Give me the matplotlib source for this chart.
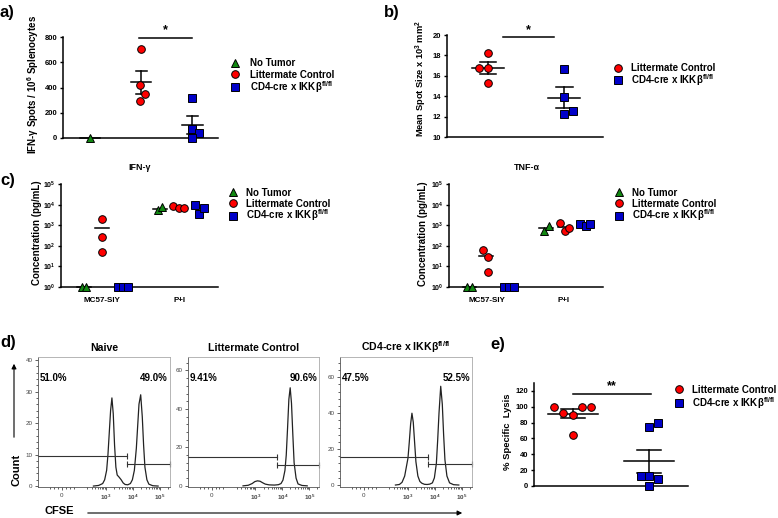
import numpy as np
import matplotlib
matplotlib.use("Agg")
import matplotlib.pyplot as plt
from matplotlib.patches import FancyArrowPatch

plt.rcParams['font.family'] = ['Liberation Sans', 'DejaVu Sans']
plt.rcParams['font.weight'] = 'bold'
plt.rcParams['mathtext.fontset'] = 'custom'
plt.rcParams['mathtext.rm'] = 'Liberation Sans'
plt.rcParams['mathtext.bf'] = 'Liberation Sans:bold'
plt.rcParams['mathtext.default'] = 'bf'

# ---------------- data ----------------
lbl_nt = 'No Tumor'
lbl_lc = 'Littermate Control'
lbl_cd4 = 'CD4-cre x IKKβ$^{fl/fl}$'

# a) IFN-g ELISpot
a_nt = [0]
a_lc = [703, 420, 349, 294]
a_cd4 = [315, 71, 39, 0]
a_jit_lc = [0, -0.02, 0.08, -0.02]
a_jit_cd4 = [0, 0, 0.12, 0]

# b) mean spot size
b_lc = [18.2, 16.8, 16.8, 15.3]
b_cd4 = [16.64, 13.97, 12.57, 12.28]
b_jit_lc = [0, -0.12, 0, 0]
b_jit_cd4 = [0, 0, 0.12, 0]

# c) cytokines, per condition [MC57-SIY, P+I]
conditions = ['MC57-SIY', 'P+I']
ifn_nt = [[1, 1], [5400, 7300]]
ifn_lc = [[2000, 263, 49], [8500, 6800, 7000]]
ifn_cd4 = [[1, 1, 1], [9500, 3500, 7000]]
ifn_jit_nt = [[-0.26, -0.21], [-0.27, -0.22]]
ifn_jit_lc = [[0, 0, 0], [-0.08, 0, 0.065]]
ifn_jit_cd4 = [[0.21, 0.27, 0.34], [0.21, 0.26, 0.32]]

tnf_nt = [[1, 1], [535, 900]]
tnf_lc = [[61, 29, 5.4], [1300, 535, 750]]
tnf_cd4 = [[1, 1, 1], [1200, 900, 1090]]
tnf_jit_nt = [[-0.26, -0.20], [-0.25, -0.19]]
tnf_jit_lc = [[-0.05, 0.01, 0.01], [-0.04, 0.02, 0.08]]
tnf_jit_cd4 = [[0.22, 0.29, 0.355], [0.23, 0.30, 0.355]]

# d) CFSE histograms (x = display channel 0..1, y = count)
naive_x = [0.42, 0.46, 0.49, 0.505, 0.52, 0.53, 0.54, 0.55, 0.56, 0.57, 0.58, 0.59, 0.60,
           0.615, 0.63, 0.645, 0.66, 0.68, 0.70, 0.715, 0.73, 0.745, 0.755, 0.765, 0.778,
           0.79, 0.80, 0.81, 0.825, 0.84, 0.87, 0.91]
naive_y = [0, 0.2, 0.8, 2, 5, 10, 17, 24, 28, 23, 13, 6, 3.5, 2.8, 2, 1, 0.5, 0.4, 0.8,
           2, 5, 12, 19, 26, 29, 22, 13, 6, 2, 0.6, 0.1, 0]
lmc_x = [0.42, 0.46, 0.49, 0.51, 0.53, 0.55, 0.57, 0.59, 0.62, 0.66, 0.69, 0.71, 0.725,
         0.74, 0.75, 0.76, 0.77, 0.78, 0.79, 0.80, 0.81, 0.825, 0.84, 0.87, 0.91]
lmc_y = [0, 0.3, 1.2, 2.2, 2.6, 2.4, 1.6, 0.9, 0.5, 0.4, 0.6, 1.2, 3, 8, 16, 30, 45, 51,
         43, 27, 12, 4, 1, 0.2, 0]
cd4_x = [0.42, 0.45, 0.47, 0.49, 0.505, 0.515, 0.525, 0.535, 0.545, 0.555, 0.565, 0.575,
         0.59, 0.605, 0.62, 0.64, 0.66, 0.68, 0.70, 0.715, 0.73, 0.74, 0.75, 0.763, 0.775,
         0.785, 0.795, 0.81, 0.83, 0.86, 0.9]
cd4_y = [0, 0.3, 1.5, 5, 11, 15, 24, 34, 40, 35, 24, 13, 5, 2, 1, 0.4, 0.3, 0.5, 1.2,
         4, 12, 25, 40, 55, 45, 28, 14, 5, 1.2, 0.2, 0]
hist_pcts = [('51.0%', '49.0%'), ('9.41%', '90.6%'), ('47.5%', '52.5%')]
gate_split = [0.677, 0.677, 0.664]
gate_left_y = [9.5, 15.0, 15.8]
gate_right_y = [7.1, 10.7, 11.7]

# e) in vivo killing
e_lc = [100, 92, 90, 100, 100, 65]
e_cd4 = [75, 79, 13, 13, 9, 0]
e_jit_lc = [-0.25, -0.13, 0, 0.12, 0.24, 0]
e_jit_cd4 = [0, 0.12, -0.11, 0, 0.12, 0]

# ---------------- styling ----------------
W, H = 778, 518
RED, BLUE, GREEN = '#ff0000', '#0000c8', '#118811'
MS = 5.5
mk = dict(ls='none', ms=MS, mec='k', mew=0.7, clip_on=False, zorder=3)

fig = plt.figure(figsize=(W / 100, H / 100), dpi=100)
# overlay in pixel coordinates for legends, labels and arrows
ov = fig.add_axes([0, 0, 1, 1], zorder=5)
ov.set_xlim(0, W)
ov.set_ylim(H, 0)
ov.axis('off')


def rect(l, t, r, b):
    return [l / W, 1 - b / H, (r - l) / W, (b - t) / H]


def prism(l, t, r, b):
    ax = fig.add_axes(rect(l, t, r, b))
    ax.spines['top'].set_visible(False)
    ax.spines['right'].set_visible(False)
    for s in ['left', 'bottom']:
        ax.spines[s].set_linewidth(1.1)
    ax.tick_params(axis='y', direction='out', length=2.5, width=1, labelsize=5.5, pad=1.5)
    ax.tick_params(axis='x', length=0, labelsize=5.8, pad=7)
    ax.set_xticks([])
    return ax


def mean_sem(ax, x, vals, half=0.2, cap=0.11, err=True):
    v = np.asarray(vals, float)
    m = v.mean()
    ax.plot([x - half, x + half], [m, m], color='k', lw=1.1, zorder=2, clip_on=False)
    if err and len(v) > 1:
        s = v.std(ddof=1) / np.sqrt(len(v))
        ax.plot([x, x], [m - s, m + s], color='k', lw=1.1, zorder=2)
        for yy in (m - s, m + s):
            ax.plot([x - cap, x + cap], [yy, yy], color='k', lw=1.1, zorder=2)


def legend(items, xm, xt, ys):
    for (m, c, t), y in zip(items, ys):
        ov.plot([xm], [y], marker=m, mfc=c, ls='none', ms=MS, mec='k', mew=0.7)
        ov.text(xt, y + 3.6, t, ha='left', va='baseline', fontsize=7, fontweight='bold')


def sig(ax, x0, x1, ybar, ystar, txt):
    ax.plot([x0, x1], [ybar, ybar], color='k', lw=1.1, clip_on=False)
    ax.text((x0 + x1) / 2, ystar, txt, ha='center', va='center', fontsize=9,
            fontweight='bold', clip_on=False)


def ylab(x, y, txt, size=7):
    ov.text(x, y, txt, rotation=90, ha='center', va='center', fontsize=size, fontweight='bold')


def panel(x, y, txt):
    ov.text(x, y, txt, ha='left', va='center', fontsize=12, fontweight='bold')


three = [('^', GREEN, lbl_nt), ('o', RED, lbl_lc), ('s', BLUE, lbl_cd4)]
two = [('o', RED, lbl_lc), ('s', BLUE, lbl_cd4)]

# ---------------- a) ----------------
ax = prism(63, 37, 218, 138)
ax.set_xlim(-0.53, 2.5)
ax.set_ylim(0, 800)
ax.set_yticks([0, 200, 400, 600, 800])
ax.plot(np.zeros(len(a_nt)), a_nt, marker='^', mfc=GREEN, **mk)
ax.plot(1 + np.array(a_jit_lc), a_lc, marker='o', mfc=RED, **mk)
ax.plot(2 + np.array(a_jit_cd4), a_cd4, marker='s', mfc=BLUE, **mk)
mean_sem(ax, 0, a_nt)
mean_sem(ax, 1, a_lc)
mean_sem(ax, 2, a_cd4)
sig(ax, 0.96, 2.0, 794, 858, '*')
ylab(33, 84, 'IFN-γ Spots / 10$^{6}$ Splenocytes')
legend(three, 235, 250, [62.7, 74, 87.3])
panel(0, 12, 'a)')

# ---------------- b) ----------------
ax = prism(447, 35, 603, 137)
ax.set_xlim(-0.54, 1.51)
ax.set_ylim(10, 20)
ax.set_yticks([10, 12, 14, 16, 18, 20])
ax.plot(np.array(b_jit_lc), b_lc, marker='o', mfc=RED, **mk)
ax.plot(1 + np.array(b_jit_cd4), b_cd4, marker='s', mfc=BLUE, **mk)
mean_sem(ax, 0, b_lc, half=0.21)
mean_sem(ax, 1, b_cd4, half=0.21)
sig(ax, 0.2, 0.87, 19.8, 20.45, '*')
ylab(421, 79, 'Mean Spot Size x 10$^{3}$ mm$^{2}$', 6.7)
legend(two, 618.3, 630.7, [67.7, 80])
panel(384, 12, 'b)')


# ---------------- c) ----------------
def cyto(l, r, center, unit, nt, lc, cd4, jnt, jlc, jcd4, title, tx):
    ax = prism(l, 184, r, 287)
    ax.set_yscale('log')
    ax.set_xlim((l - center) / unit, (r - center) / unit)
    ax.set_ylim(1, 1e5)
    ax.set_yticks([1, 10, 100, 1e3, 1e4, 1e5])
    ax.set_yticklabels(['10$^{0}$', '10$^{1}$', '10$^{2}$', '10$^{3}$', '10$^{4}$', '10$^{5}$'])
    ax.minorticks_off()
    ax.tick_params(axis='y', labelsize=5)
    ax.set_xticks([0, 1])
    ax.set_xticklabels(conditions)
    for i in range(len(conditions)):
        for vals, jit, m, c in ((nt, jnt, '^', GREEN), (lc, jlc, 'o', RED), (cd4, jcd4, 's', BLUE)):
            xs = i + np.array(jit[i])
            mean_sem(ax, xs.mean(), vals[i], half=0.09, err=False)
            ax.plot(xs, vals[i], marker=m, mfc=c, **mk)
    ov.text(tx, 168, title, ha='center', va='center', fontsize=6.4, fontweight='bold')
    return ax


cyto(61, 218, 102, 77, ifn_nt, ifn_lc, ifn_cd4, ifn_jit_nt, ifn_jit_lc, ifn_jit_cd4, 'IFN-γ', 140)
cyto(449, 603, 487, 76, tnf_nt, tnf_lc, tnf_cd4, tnf_jit_nt, tnf_jit_lc, tnf_jit_cd4, 'TNF-α', 527)
ylab(37, 233, 'Concentration (pg/mL)')
ylab(423, 234, 'Concentration (pg/mL)')
legend(three, 233.3, 246, [192.3, 203.3, 215.7])
legend(three, 619.3, 631.7, [192.3, 203.3, 215.7])
panel(0, 180, 'c)')

# ---------------- d) ----------------
hist_lefts = [38, 188, 340]
hist_rights = [170, 319, 472]
hist_ylims = [(-0.3, 41), (-0.6, 67), (-1.1, 71.3)]
hist_ystep = [10, 20, 20]
hist_titles = ['Naive', 'Littermate Control', 'CD4-cre x IKKβ$^{fl/fl}$']
hist_xy = [(naive_x, naive_y), (lmc_x, lmc_y), (cd4_x, cd4_y)]
major_x = [0.18, 0.515, 0.72, 0.925]
dec = 0.205
minor_x = [0.09, 0.12, 0.15, 0.21, 0.24, 0.27]
for base in (0.31, 0.515, 0.72, 0.925):
    for k in range(2, 10):
        p = base + dec * np.log10(k)
        if p < 1:
            minor_x.append(p)

for i in range(3):
    ax = fig.add_axes(rect(hist_lefts[i], 357, hist_rights[i], 487))
    hx, hy = hist_xy[i]
    ax.plot(hx, hy, color='#222222', lw=0.9)
    ax.set_xlim(0, 1)
    ax.set_ylim(*hist_ylims[i])
    for s in ax.spines.values():
        s.set_linewidth(0.6)
        s.set_color('#aaaaaa')
    ax.spines['left'].set_color('#555555')
    ax.spines['bottom'].set_color('#555555')
    ax.set_xticks(major_x)
    ax.set_xticklabels(['0', r'$\mathrm{10^3}$', r'$\mathrm{10^4}$', r'$\mathrm{10^5}$'])
    ax.set_xticks(minor_x, minor=True)
    st = hist_ystep[i]
    ax.set_yticks(np.arange(0, hist_ylims[i][1], st))
    ax.set_yticks(np.arange(0, hist_ylims[i][1], st / 5), minor=True)
    ax.tick_params(which='both', direction='out', colors='#444444', labelsize=4.5, width=0.6)
    ax.tick_params(which='major', length=2.5, pad=1.5)
    ax.tick_params(which='minor', length=1.3)
    for t in ax.get_xticklabels() + ax.get_yticklabels():
        t.set_fontweight('normal')
    ax.set_title(hist_titles[i], fontsize=7.6, fontweight='bold', pad=4)
    sp = gate_split[i]
    ax.plot([0, sp], [gate_left_y[i]] * 2, color='#333333', lw=0.8, clip_on=False)
    ax.plot([sp, 1], [gate_right_y[i]] * 2, color='#333333', lw=0.8, clip_on=False)
    ax.plot([sp, sp], [gate_right_y[i], gate_left_y[i]], ls='none', marker='|', ms=4,
            mew=0.8, color='#333333', clip_on=False)
    ax.plot([1], [gate_right_y[i]], ls='none', marker='|', ms=4, mew=0.8, color='#333333',
            clip_on=False)
    ax.text(0.015, 0.84, hist_pcts[i][0], transform=ax.transAxes, ha='left', va='center',
            fontsize=7, fontweight='bold')
    ax.text(0.985, 0.84, hist_pcts[i][1], transform=ax.transAxes, ha='right', va='center',
            fontsize=7, fontweight='bold')

ov.text(17, 470, 'Count', rotation=90, ha='center', va='center', fontsize=8, fontweight='bold')
ov.add_patch(FancyArrowPatch((14, 440), (14, 361), arrowstyle='-|>', mutation_scale=7,
                             lw=0.8, color='k'))
ov.text(45, 511, 'CFSE', ha='left', va='center', fontsize=8, fontweight='bold')
ov.add_patch(FancyArrowPatch((85, 513), (465, 513), arrowstyle='-|>', mutation_scale=7,
                             lw=0.8, color='k'))
panel(0, 342, 'd)')

# ---------------- e) ----------------
ax = prism(534, 383, 688, 486)
ax.set_xlim(-0.51, 1.51)
ax.set_ylim(0, 130)
ax.set_yticks([0, 20, 40, 60, 80, 100, 120])
ax.plot(np.array(e_jit_lc), e_lc, marker='o', mfc=RED, **mk)
ax.plot(1 + np.array(e_jit_cd4), e_cd4, marker='s', mfc=BLUE, **mk)
mean_sem(ax, 0, e_lc, half=0.33, cap=0.16)
mean_sem(ax, 1, e_cd4, half=0.33, cap=0.16)
sig(ax, 0.0, 1.02, 115.7, 126, '**')
ylab(508, 432, '% Specific  Lysis', 6.8)
legend(two, 679.3, 691.7, [389, 403.3])
panel(490, 345, 'e)')

fig.savefig('out.png', dpi=100)
